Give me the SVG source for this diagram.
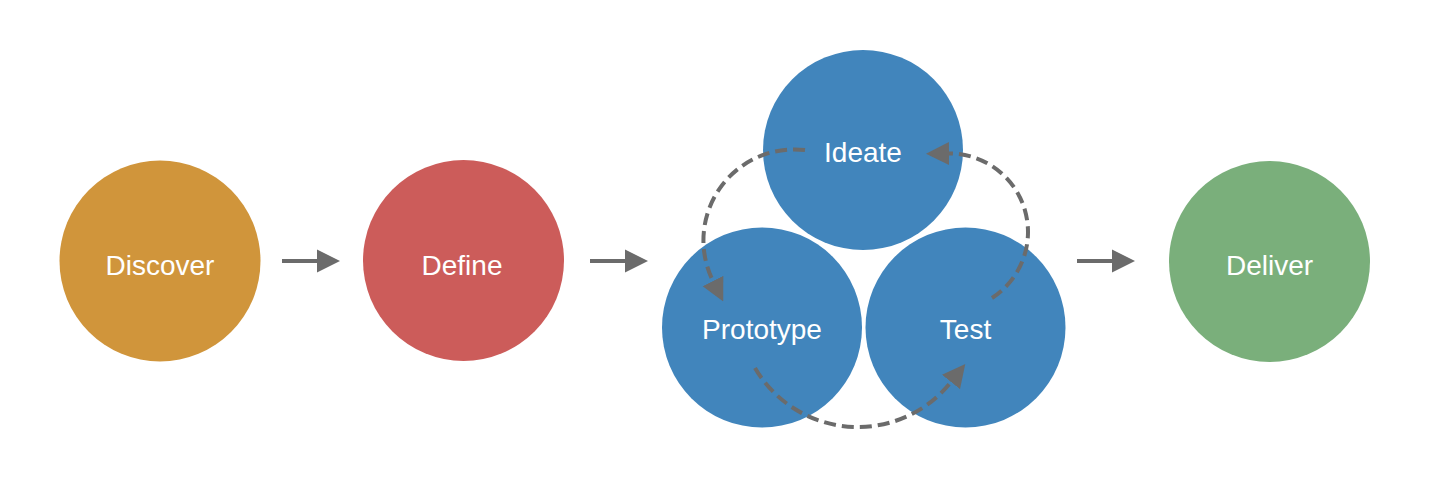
<svg xmlns="http://www.w3.org/2000/svg" width="1437" height="490" viewBox="0 0 1437 490">
  <defs>
    <style>
      .label { font-family: "Liberation Sans", Arial, sans-serif; font-size: 28px; fill: #ffffff; text-anchor: middle; }
      .flow { fill: none; stroke: #6b6b6b; stroke-width: 4; }
      .loop { fill: none; stroke: #6b6b6b; stroke-width: 4; stroke-dasharray: 12 6; }
    </style>
    <marker id="head" markerUnits="userSpaceOnUse" markerWidth="23" markerHeight="24" refX="0" refY="12" orient="auto">
      <path d="M0,0.5 L23,12 L0,23.5 z" fill="#6b6b6b"/>
    </marker>
  </defs>

  <g id="node-discover">
    <circle cx="160" cy="261" r="100.5" fill="#D0953B"/>
    <text class="label" x="160" y="274.5">Discover</text>
  </g>
  <g id="node-define">
    <circle cx="463.5" cy="260.5" r="100.5" fill="#CC5C5A"/>
    <text class="label" x="462" y="274.5">Define</text>
  </g>
  <g id="node-ideate">
    <circle cx="863" cy="150" r="100" fill="#4185BC"/>
    <text class="label" x="863" y="162">Ideate</text>
  </g>
  <g id="node-prototype">
    <circle cx="762" cy="327.5" r="100" fill="#4185BC"/>
    <text class="label" x="762" y="338.5">Prototype</text>
  </g>
  <g id="node-test">
    <circle cx="965.5" cy="327.5" r="100" fill="#4185BC"/>
    <text class="label" x="965.5" y="338.5">Test</text>
  </g>
  <g id="node-deliver">
    <circle cx="1269.5" cy="261.5" r="100.5" fill="#7AAF7B"/>
    <text class="label" x="1269.5" y="274.5">Deliver</text>
  </g>

  <g id="connectors">
    <!-- linear stage arrows -->
    <line class="flow" x1="282" y1="261" x2="317" y2="261" marker-end="url(#head)"/>
    <line class="flow" x1="590" y1="261" x2="625" y2="261" marker-end="url(#head)"/>
    <line class="flow" x1="1077" y1="261" x2="1112" y2="261" marker-end="url(#head)"/>
    <!-- iteration loop: Ideate -> Prototype -> Test -> Ideate -->
    <path class="loop" d="M805,150 A91,91 0 0 0 713,281" marker-end="url(#head)"/>
    <path class="loop" d="M755,368 A119,119 0 0 0 951,382" marker-end="url(#head)"/>
    <path class="loop" d="M992,298 A78.5,78.5 0 0 0 949,153.5" marker-end="url(#head)"/>
  </g>
</svg>
